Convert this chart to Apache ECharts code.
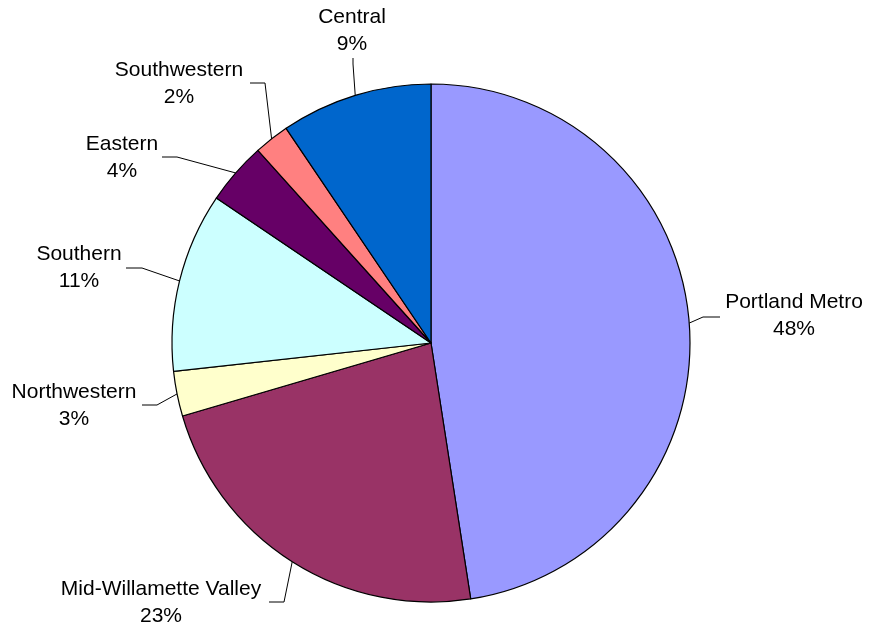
<!DOCTYPE html>
<html>
<head>
<meta charset="utf-8">
<script src="https://cdn.jsdelivr.net/npm/echarts@6/dist/echarts.min.js"></script>
<style>
  html, body { margin: 0; padding: 0; background: #fff; }
  #chart { width: 869px; height: 631px; }
</style>
</head>
<body>
<div id="chart"></div>
<script>
// regions, clockwise from 12 o'clock
var regions = ["Portland Metro", "Mid-Willamette Valley", "Northwestern", "Southern", "Eastern", "Southwestern", "Central"];
var shares = [47.55, 22.9, 2.8, 11.2, 3.9, 2.2, 9.45];
var sliceColors = ["#9999FF", "#993366", "#FFFFCC", "#CCFFFF", "#660066", "#FF8080", "#0066CC"];

// label placement (text centre, elbow of leader, end of leader at text)
var labelSpots = [
  { x: 794, y: 316, knee: [703, 317], end: [720, 317] },
  { x: 161, y: 603, knee: [284, 602], end: [269, 602] },
  { x: 74, y: 406, knee: [157, 405], end: [142, 405] },
  { x: 79, y: 268, knee: [142, 268], end: [126, 268] },
  { x: 122, y: 158, knee: [177, 157], end: [162, 157] },
  { x: 179, y: 84, knee: [265, 83], end: [250, 83] },
  { x: 352, y: 31, knee: [353, 64], end: [353, 58] }
];

var cx = 431, cy = 343, R = 259;
var total = shares.reduce(function (a, b) { return a + b; }, 0);

function edgePoint(i) {
  var before = 0;
  for (var k = 0; k < i; k++) before += shares[k];
  var mid = (before + shares[i] / 2) / total * Math.PI * 2;
  return [cx + R * Math.sin(mid), cy - R * Math.cos(mid)];
}

var chart = echarts.init(document.getElementById("chart"));
var option = {
  animation: false,
  series: [
    {
      type: "pie",
      center: [cx, cy],
      radius: R,
      startAngle: 90,
      clockwise: true,
      percentPrecision: 0,
      avoidLabelOverlap: false,
      emphasis: { disabled: true },
      itemStyle: { borderColor: "#000", borderWidth: 1.2 },
      label: {
        show: true,
        position: "outside",
        formatter: "{b}\n{d}%",
        color: "#000",
        fontFamily: "Liberation Sans, Arial, sans-serif",
        fontSize: 21,
        lineHeight: 27,
        align: "center"
      },
      labelLine: {
        show: true,
        lineStyle: { color: "#000", width: 1 }
      },
      labelLayout: function (params) {
        var s = labelSpots[params.dataIndex];
        var start = edgePoint(params.dataIndex);
        return {
          x: s.x,
          y: s.y,
          align: "center",
          verticalAlign: "middle",
          labelLinePoints: [start, s.knee, s.end]
        };
      },
      data: regions.map(function (name, i) {
        return { name: name, value: shares[i], itemStyle: { color: sliceColors[i] } };
      })
    }
  ]
};
chart.setOption(option);
</script>
</body>
</html>
